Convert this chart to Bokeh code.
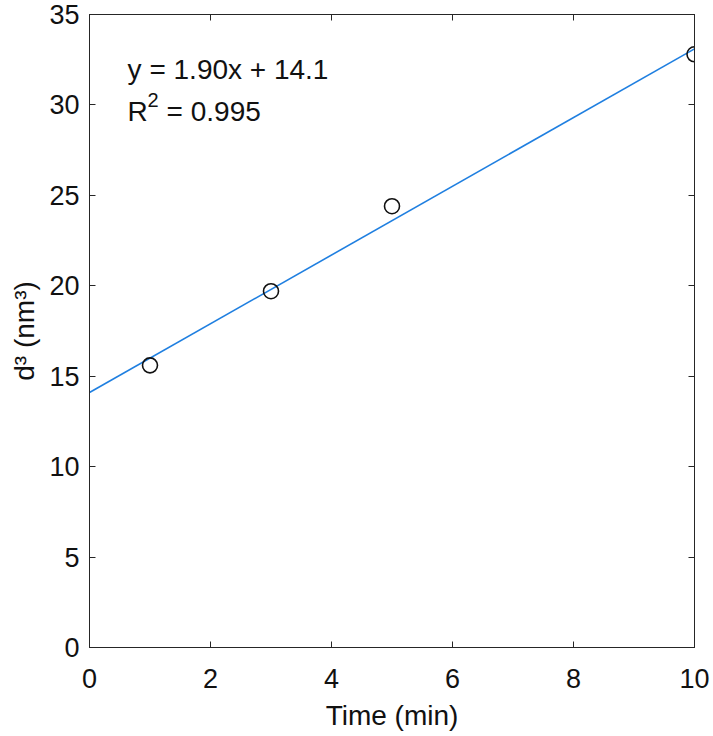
from bokeh.plotting import figure
from bokeh.models import LinearAxis, Label, Range1d, FixedTicker
from bokeh.embed import file_html
from bokeh.resources import INLINE

# Data
time_min = [1, 3, 5, 10]
d_cubed = [15.6, 19.7, 24.4, 32.8]
fit_slope = 1.90
fit_intercept = 14.1
fit_x = [0, 10]
fit_y = [fit_intercept + fit_slope * x for x in fit_x]
x_ticks = [0, 2, 4, 6, 8, 10]
y_ticks = [0, 5, 10, 15, 20, 25, 30, 35]

FONT = "Liberation Sans"
AX = "#262626"

p = figure(width=711, height=734, output_backend="svg", toolbar_location=None,
           x_range=Range1d(0, 10), y_range=Range1d(0, 35),
           min_border_left=89, min_border_right=17, min_border_top=14,
           min_border_bottom=87, x_axis_location=None, y_axis_location=None)
p.xgrid.visible = False
p.ygrid.visible = False
p.outline_line_color = AX
p.outline_line_width = 1
p.background_fill_color = "white"
p.border_fill_color = "white"

def style(ax, show_labels, ticks):
    ax.axis_line_color = AX
    ax.axis_line_width = 1
    ax.major_tick_line_color = AX
    ax.major_tick_in = 6
    ax.major_tick_out = 0
    ax.minor_tick_line_color = None
    ax.major_label_text_font = FONT
    ax.major_label_text_color = "#111111"
    ax.major_label_text_font_size = "27px"
    if not show_labels:
        ax.major_label_overrides = {t: "" for t in ticks}
        ax.major_label_standoff = 0

xb = LinearAxis(ticker=FixedTicker(ticks=x_ticks), axis_label="Time (min)")
style(xb, True, x_ticks)
xb.major_label_standoff = 21
xb.axis_label_standoff = 9
xb.axis_label_text_font = FONT
xb.axis_label_text_font_size = "28px"
xb.axis_label_text_font_style = "normal"
xb.axis_label_text_color = "#111111"
p.add_layout(xb, "below")

yl = LinearAxis(ticker=FixedTicker(ticks=y_ticks), axis_label="d³ (nm³)")
style(yl, True, y_ticks)
yl.major_label_standoff = 10
yl.axis_label_standoff = 6
yl.axis_label_text_font = FONT
yl.axis_label_text_font_size = "28px"
yl.axis_label_text_font_style = "normal"
yl.axis_label_text_color = "#111111"
p.add_layout(yl, "left")

xt = LinearAxis(ticker=FixedTicker(ticks=x_ticks))
style(xt, False, x_ticks)
p.add_layout(xt, "above")
yr = LinearAxis(ticker=FixedTicker(ticks=y_ticks))
style(yr, False, y_ticks)
p.add_layout(yr, "right")

p.line(fit_x, fit_y, line_color="#1f7fe0", line_width=1.6)
p.scatter(time_min, d_cubed, marker="circle", size=15, fill_color=None,
          line_color="#111111", line_width=1.6)

ann = dict(text_font=FONT, text_color="#111111", text_baseline="alphabetic")
p.add_layout(Label(x=0.63, y=31.95, text="y = 1.90x + 14.1",
                   text_font_size="28px", **ann))
p.add_layout(Label(x=0.63, y=29.65, text="R", text_font_size="28px", **ann))
p.add_layout(Label(x=0.63, y=29.65, x_offset=20, y_offset=11, text="2",
                   text_font_size="20px", **ann))
p.add_layout(Label(x=0.63, y=29.65, x_offset=39, text="= 0.995",
                   text_font_size="28px", **ann))

open("out.html", "w").write(file_html(p, INLINE))
